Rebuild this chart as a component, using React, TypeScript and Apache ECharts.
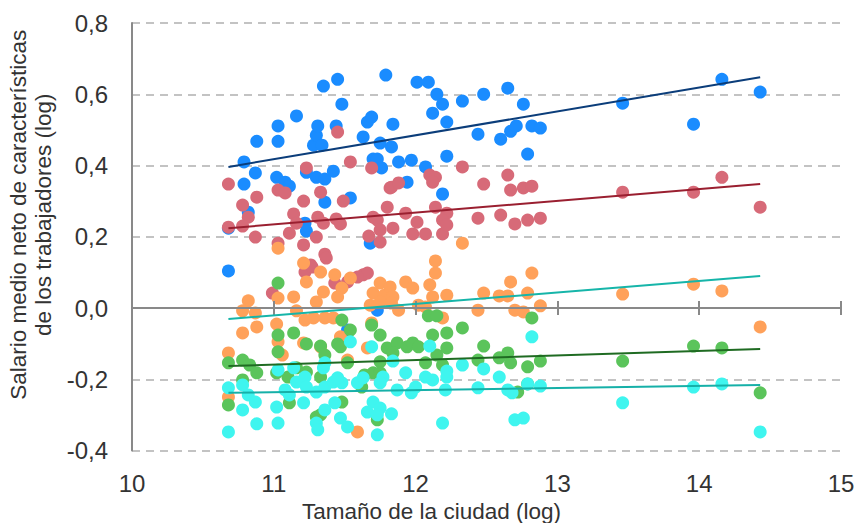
import React, { useEffect, useRef } from "react";
import * as echarts from "echarts";

// Tamaño de la ciudad (log) vs salario medio neto (log), five groups
const grupoAzul: [number, number][] = [
  [10.68, 0.104], [10.68, 0.224], [10.79, 0.41], [10.79, 0.348], [10.82, 0.269], [10.87, 0.379], [10.88, 0.468],
  [11.03, 0.511], [11.03, 0.468], [11.16, 0.539], [11.02, 0.367], [11.08, 0.353], [11.11, 0.342], [11.23, 0.381],
  [11.22, 0.238], [11.23, 0.216], [11.28, 0.457], [11.3, 0.485], [11.31, 0.511], [11.34, 0.457], [11.35, 0.623],
  [11.45, 0.642], [11.48, 0.572], [11.44, 0.511], [11.3, 0.367], [11.36, 0.362], [11.42, 0.384], [11.36, 0.297],
  [11.54, 0.309], [11.63, 0.48], [11.66, 0.522], [11.69, 0.536], [11.75, 0.463], [11.83, 0.452], [11.84, 0.516],
  [11.79, 0.654], [11.7, 0.418], [11.73, 0.418], [11.76, 0.393], [11.88, 0.41], [11.97, 0.415], [11.94, 0.353],
  [12.07, 0.396], [12.01, 0.634], [12.09, 0.634], [12.15, 0.6], [12.19, 0.572], [12.12, 0.547], [12.22, 0.522],
  [12.22, 0.426], [12.19, 0.32], [12.33, 0.581], [12.48, 0.6], [12.65, 0.617], [12.76, 0.572], [12.44, 0.488],
  [12.6, 0.474], [12.67, 0.496], [12.71, 0.511], [12.82, 0.511], [12.88, 0.505], [12.79, 0.432], [13.46, 0.575],
  [13.96, 0.516], [14.16, 0.642], [14.43, 0.606], [11.68, 0.182], [11.73, -0.006], [11.52, -0.062],
];

const grupoRojo: [number, number][] = [
  [10.68, 0.348], [10.68, 0.227], [10.78, 0.289], [10.82, 0.255], [10.78, 0.23], [10.88, 0.311], [10.87, 0.199],
  [11.03, 0.331], [11.08, 0.323], [11.03, 0.182], [11.14, 0.264], [11.11, 0.21], [11.16, 0.238], [11.23, 0.393],
  [11.21, 0.3], [11.21, 0.177], [11.33, 0.325], [11.3, 0.199], [11.36, 0.151], [11.31, 0.255], [11.35, 0.238],
  [11.45, 0.494], [11.49, 0.3], [11.44, 0.25], [11.47, 0.236], [11.54, 0.41], [11.69, 0.393], [11.7, 0.255],
  [11.73, 0.247], [11.75, 0.219], [11.67, 0.202], [11.75, 0.185], [11.82, 0.337], [11.8, 0.283], [11.83, 0.339],
  [11.88, 0.351], [12.1, 0.373], [12.14, 0.367], [12.12, 0.353], [12.33, 0.396], [12.48, 0.348], [12.65, 0.373],
  [12.67, 0.331], [12.76, 0.337], [12.82, 0.342], [11.93, 0.266], [12.01, 0.241], [11.84, 0.224], [11.98, 0.208],
  [12.07, 0.208], [12.19, 0.208], [12.14, 0.283], [12.22, 0.266], [12.19, 0.247], [12.22, 0.233], [12.44, 0.252],
  [12.6, 0.261], [12.7, 0.236], [12.79, 0.247], [12.88, 0.252], [13.46, 0.325], [13.96, 0.325], [14.16, 0.367],
  [14.43, 0.283], [11.26, 0.121], [11.22, 0.101], [11.27, 0.115], [11.63, 0.093], [11.66, 0.098], [11.59, 0.087],
  [11.52, 0.073], [11.43, 0.07], [10.99, 0.042], [11.37, 0.14],
];

const grupoNaranja: [number, number][] = [
  [10.68, -0.126], [10.68, -0.25], [10.78, -0.07], [10.82, 0.02], [10.78, -0.008], [10.87, -0.014], [10.88, -0.053],
  [11.03, 0.168], [11.02, -0.045], [11.03, 0.028], [11.03, -0.095], [11.06, -0.132], [11.14, 0.031], [11.16, -0.008],
  [11.21, -0.098], [11.22, -0.034], [11.28, -0.028], [11.3, 0.017], [11.35, 0.045], [11.33, 0.101], [11.21, 0.126],
  [11.23, 0.073], [11.36, -0.028], [11.42, -0.028], [11.33, -0.109], [11.43, 0.093], [11.54, 0.084], [11.48, 0.056],
  [11.45, 0.031], [11.47, -0.081], [11.52, -0.146], [11.59, -0.348], [11.66, -0.112], [11.69, -0.042], [11.68, 0.008],
  [11.7, 0.042], [11.75, 0.07], [11.78, 0.036], [11.82, 0.059], [11.84, 0.031], [11.75, 0.017], [11.83, 0.014],
  [11.88, -0.006], [11.93, 0.073], [11.98, 0.056], [12.02, 0.008], [12.07, 0.003], [12.1, 0.065], [12.12, 0.031],
  [12.14, 0.132], [12.14, 0.098], [12.22, 0.036], [12.19, -0.028], [12.33, 0.182], [12.44, -0.006], [12.48, 0.042],
  [12.59, 0.034], [12.65, 0.034], [12.67, 0.073], [12.82, 0.098], [12.79, 0.042], [12.7, -0.006], [12.76, -0.011],
  [12.88, 0.006], [13.46, 0.039], [13.96, 0.067], [14.16, 0.048], [14.43, -0.053],
];

const grupoVerde: [number, number][] = [
  [10.68, -0.154], [10.68, -0.272], [10.78, -0.146], [10.83, -0.16], [10.88, -0.182], [10.78, -0.202], [11.03, 0.07],
  [11.03, -0.076], [11.03, -0.123], [11.02, -0.182], [11.1, -0.194], [11.11, -0.266], [11.14, -0.07], [11.16, -0.168],
  [11.23, -0.101], [11.23, -0.18], [11.33, -0.107], [11.36, -0.132], [11.33, -0.194], [11.33, -0.3], [11.3, -0.306],
  [11.48, -0.034], [11.54, -0.062], [11.45, -0.101], [11.47, -0.109], [11.52, -0.154], [11.48, -0.264], [11.69, -0.048],
  [11.75, -0.076], [11.8, -0.112], [11.75, -0.151], [11.64, -0.188], [11.62, -0.222], [11.7, -0.182], [11.75, -0.182],
  [11.73, -0.314], [11.87, -0.098], [11.94, -0.109], [11.98, -0.098], [12.02, -0.109], [11.84, -0.126], [12.09, -0.022],
  [12.15, -0.022], [12.12, -0.076], [12.22, -0.07], [12.33, -0.056], [12.22, -0.112], [12.15, -0.132], [12.07, -0.154],
  [12.19, -0.16], [12.48, -0.107], [12.44, -0.146], [12.59, -0.14], [12.65, -0.126], [12.67, -0.154], [12.79, -0.165],
  [12.88, -0.149], [12.82, -0.028], [12.72, -0.236], [12.79, -0.213], [13.46, -0.149], [13.96, -0.107], [14.16, -0.112],
  [14.43, -0.238],
];

const grupoCian: [number, number][] = [
  [10.68, -0.224], [10.68, -0.348], [10.78, -0.216], [10.82, -0.244], [10.87, -0.264], [10.78, -0.286], [10.88, -0.325],
  [11.03, -0.174], [11.02, -0.278], [11.03, -0.323], [11.08, -0.23], [11.11, -0.244], [11.14, -0.168], [11.16, -0.208],
  [11.22, -0.194], [11.23, -0.222], [11.21, -0.266], [11.3, -0.236], [11.36, -0.222], [11.35, -0.168], [11.36, -0.154],
  [11.42, -0.208], [11.48, -0.21], [11.45, -0.196], [11.43, -0.266], [11.36, -0.286], [11.47, -0.309], [11.52, -0.334],
  [11.3, -0.323], [11.31, -0.342], [11.54, -0.095], [11.59, -0.21], [11.63, -0.196], [11.7, -0.264], [11.66, -0.292],
  [11.75, -0.281], [11.73, -0.3], [11.69, -0.109], [11.73, -0.356], [11.77, -0.194], [11.75, -0.21], [11.84, -0.149],
  [11.93, -0.182], [12.0, -0.222], [11.97, -0.238], [11.87, -0.23], [11.83, -0.297], [12.1, -0.107], [12.33, -0.16],
  [12.22, -0.177], [12.12, -0.202], [12.21, -0.23], [12.22, -0.194], [12.07, -0.194], [12.19, -0.323], [12.44, -0.224],
  [12.48, -0.171], [12.59, -0.194], [12.65, -0.23], [12.68, -0.238], [12.79, -0.213], [12.88, -0.219], [12.82, -0.081],
  [12.7, -0.314], [12.76, -0.309], [13.46, -0.266], [13.96, -0.222], [14.16, -0.213], [14.43, -0.348],
];

// Trend lines (start, end)
const tendenciaAzul: [number, number][] = [[10.68, 0.396], [14.43, 0.648]];
const tendenciaRoja: [number, number][] = [[10.68, 0.224], [14.43, 0.348]];
const tendenciaNaranja: [number, number][] = [[10.68, -0.031], [14.43, 0.09]];
const tendenciaVerde: [number, number][] = [[10.68, -0.163], [14.43, -0.115]];
const tendenciaCian: [number, number][] = [[10.68, -0.238], [14.43, -0.216]];

const xMin = 10;
const xMax = 15;
const yMin = -0.4;
const yMax = 0.8;

const FONT = "'Liberation Sans', Arial, sans-serif";
const TEXT = "#333333";
const AXIS = "#898989";

export default function App() {
  const ref = useRef<HTMLDivElement>(null);
  useEffect(() => {
    if (!ref.current) return;
    const chart = echarts.init(ref.current, undefined, { renderer: "svg" });
    const scatter = (data: [number, number][], color: string) => ({
      type: "scatter",
      xAxisIndex: 0,
      yAxisIndex: 0,
      data,
      symbolSize: 13,
      itemStyle: { color, opacity: 1 },
      silent: true,
    });
    const trend = (data: [number, number][], color: string) => ({
      type: "line",
      xAxisIndex: 0,
      yAxisIndex: 0,
      data,
      symbol: "none",
      lineStyle: { color, width: 2 },
      z: 5,
      silent: true,
    });
    const zeroAxisBase = {
      type: "value",
      min: xMin,
      max: xMax,
      interval: 1,
      position: "bottom",
      axisLine: { show: true, onZero: true, onZeroAxisIndex: 0, lineStyle: { color: AXIS, width: 2 } },
      axisLabel: { show: false },
      splitLine: { show: false },
      z: 4,
    };
    chart.setOption({
      animation: false,
      textStyle: { fontFamily: FONT },
      grid: {
        left: 132,
        right: 19,
        top: 23,
        bottom: 72.5,
        containLabel: false,
        outerBoundsMode: "none",
      },
      xAxis: [
        {
          type: "value",
          min: xMin,
          max: xMax,
          interval: 1,
          position: "bottom",
          axisLine: { show: false, onZero: false },
          axisTick: { show: false },
          splitLine: { show: false },
          axisLabel: { fontSize: 24, margin: 21, color: TEXT, fontFamily: FONT },
          name: "Tamaño de la ciudad (log)",
          nameLocation: "middle",
          nameGap: 49,
          nameTextStyle: { fontSize: 22.5, color: TEXT, fontFamily: FONT, padding: [0, 110, 0, 0] },
        },
        { ...zeroAxisBase, axisTick: { show: true, inside: true, length: 7, lineStyle: { color: AXIS, width: 2 } } },
        { ...zeroAxisBase, axisTick: { show: true, inside: false, length: 7, lineStyle: { color: AXIS, width: 2 } } },
      ],
      yAxis: {
        type: "value",
        min: yMin,
        max: yMax,
        interval: 0.2,
        axisLine: { show: true, onZero: false, lineStyle: { color: AXIS, width: 2 } },
        axisTick: { show: false },
        splitLine: { show: true, lineStyle: { color: "#c3c3c3", width: 2, type: [8, 6] } },
        axisLabel: {
          fontSize: 24,
          margin: 24,
          color: TEXT,
          fontFamily: FONT,
          formatter: (v: number) => v.toFixed(1).replace(".", ","),
        },
        name: "Salario medio neto de características\nde los trabajadores (log)",
        nameLocation: "middle",
        nameGap: 70,
        nameRotate: 90,
        nameTextStyle: { fontSize: 22.5, color: TEXT, fontFamily: FONT, lineHeight: 25, padding: [0, 0, 0, 44] },
      },
      series: [
        scatter(grupoAzul, "#1a8cff"),
        scatter(grupoRojo, "#d76a78"),
        scatter(grupoNaranja, "#ffa15a"),
        scatter(grupoVerde, "#5bc45b"),
        scatter(grupoCian, "#3ff5ef"),
        trend(tendenciaAzul, "#0b3d7a"),
        trend(tendenciaRoja, "#9a1f30"),
        trend(tendenciaNaranja, "#16b5a9"),
        trend(tendenciaVerde, "#1f6b22"),
        trend(tendenciaCian, "#16b0a8"),
      ],
    });
    return () => chart.dispose();
  }, []);
  return (
    <div
      ref={ref}
      style={{ position: "fixed", left: 0, top: 0, width: 860, height: 523, background: "#ffffff" }}
    />
  );
}
